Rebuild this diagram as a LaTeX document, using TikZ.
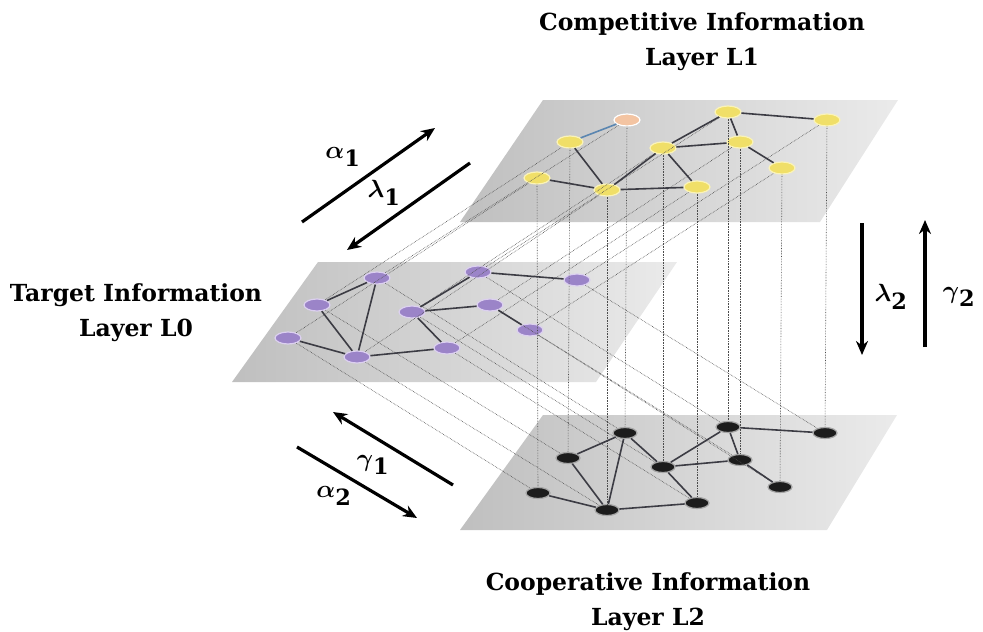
\documentclass[tikz,border=0pt]{standalone}
\usepackage{amsmath}
\usepackage{fontspec}
\setmainfont{DejaVu Serif}
\usetikzlibrary{shapes.geometric,arrows.meta}
\definecolor{nodeyel}{HTML}{F0DF68}
\definecolor{yelglow}{HTML}{FAF3B8}
\definecolor{nodeorg}{HTML}{F3C4A2}
\definecolor{nodepur}{HTML}{9B84C8}
\definecolor{purglow}{HTML}{DCD0F0}
\definecolor{nodeblk}{HTML}{1C1C1C}
\definecolor{edgegray}{HTML}{3C3C44}
\definecolor{edgeblue}{HTML}{5B86B0}

\begin{document}
\begin{tikzpicture}[x=1pt,y=-1pt,>={Stealth[length=14pt,width=12pt]},
  lbl/.style={font=\fontsize{23.5}{35}\selectfont\bfseries,align=center,inner sep=0pt},
  greek/.style={font=\fontsize{32}{32}\selectfont,inner sep=0pt},
  rel/.style={->,line width=3.2pt},
  plane/.style={left color=gray!50,right color=gray!16,draw=none},
  vert/.style={ellipse,minimum width=26pt,minimum height=12pt,inner sep=0pt,line width=1.2pt},
  comp/.style={vert,fill=nodeyel,draw=yelglow},
  targ/.style={vert,fill=nodepur,draw=purglow},
  coop/.style={vert,fill=nodeblk,draw=gray!70,minimum width=24pt,minimum height=11pt},
  link/.style={draw=edgegray,line width=1.6pt},
  proj/.style={draw=gray!60!black,line width=0.6pt,densely dotted}]
\useasboundingbox (0,0) rectangle (983,632);
\shade[plane] (543,100)--(898,100)--(820,222)--(460,222)--cycle;
\shade[plane] (318,262)--(677,262)--(596,382)--(232,382)--cycle;
\shade[plane] (543,415)--(897,415)--(827,530)--(460,530)--cycle;
\node[lbl] (l1) at (702,42) {Competitive Information\\Layer L1};
\node[lbl] (l0) at (136,313) {Target Information\\Layer L0};
\node[lbl] (l2) at (648,602) {Cooperative Information\\Layer L2};
\node[comp,fill=nodeorg,draw=white] (top1) at (627,120) {};
\node[comp] (top2) at (570,142) {};
\node[comp] (top3) at (728,112) {};
\node[comp] (top4) at (827,120) {};
\node[comp] (top5) at (663,148) {};
\node[comp] (top6) at (740,142) {};
\node[comp] (top7) at (782,168) {};
\node[comp] (top8) at (537,178) {};
\node[comp] (top9) at (607,190) {};
\node[comp] (top10) at (697,187) {};
\node[targ] (mid1) at (377,278) {};
\node[targ] (mid2) at (317,305) {};
\node[targ] (mid3) at (478,272) {};
\node[targ] (mid4) at (577,280) {};
\node[targ] (mid5) at (412,312) {};
\node[targ] (mid6) at (490,305) {};
\node[targ] (mid7) at (530,330) {};
\node[targ] (mid8) at (288,338) {};
\node[targ] (mid9) at (357,357) {};
\node[targ] (mid10) at (447,348) {};
\node[coop] (bot1) at (625,433) {};
\node[coop] (bot2) at (568,458) {};
\node[coop] (bot3) at (728,427) {};
\node[coop] (bot4) at (825,433) {};
\node[coop] (bot5) at (663,467) {};
\node[coop] (bot6) at (740,460) {};
\node[coop] (bot7) at (780,487) {};
\node[coop] (bot8) at (538,493) {};
\node[coop] (bot9) at (607,510) {};
\node[coop] (bot10) at (697,503) {};
\foreach \i in {1,...,10} {
  \draw[proj] (top\i)--(bot\i);
  \draw[proj] (mid\i)--(top\i);
  \draw[proj] (mid\i)--(bot\i);
}
\draw[link,draw=edgeblue] (top1)--(top2);
\draw[link] (top2)--(top9)--(top5)--(top3)--(top4);
\draw[link] (top8)--(top9)--(top10)--(top5)--(top6)--(top7);
\draw[link] (top3)--(top6);
\draw[link] (mid2)--(mid1)--(mid9)--(mid2);
\draw[link] (mid8)--(mid9)--(mid10)--(mid5)--(mid3)--(mid4);
\draw[link] (mid5)--(mid6)--(mid7);
\draw[link] (bot2)--(bot1)--(bot9)--(bot2);
\draw[link] (bot8)--(bot9)--(bot10)--(bot5)--(bot1);
\draw[link] (bot5)--(bot3)--(bot4);
\draw[link] (bot5)--(bot6)--(bot7);
\draw[link] (bot3)--(bot6);
\coordinate (a1s) at (302,222); \coordinate (a1e) at (435,128);
\coordinate (l1s) at (470,163); \coordinate (l1e) at (347,250);
\coordinate (g1s) at (453,485); \coordinate (g1e) at (333,412);
\coordinate (a2s) at (297,447); \coordinate (a2e) at (417,518);
\coordinate (l2s) at (862,223); \coordinate (l2e) at (862,355);
\coordinate (g2s) at (925,347); \coordinate (g2e) at (925,220);
\draw[rel] (a1s)--(a1e);
\draw[rel] (l1s)--(l1e);
\draw[rel] (g1s)--(g1e);
\draw[rel] (a2s)--(a2e);
\draw[rel] (l2s)--(l2e);
\draw[rel] (g2s)--(g2e);
\node[greek] (al1) at (343,157) {$\boldsymbol{\alpha}_{\mathbf{1}}$};
\node[greek] (la1) at (384,193) {$\boldsymbol{\lambda}_{\mathbf{1}}$};
\node[greek] (ga1) at (373,465) {$\boldsymbol{\gamma}_{\mathbf{1}}$};
\node[greek] (al2) at (334,496) {$\boldsymbol{\alpha}_{\mathbf{2}}$};
\node[greek] (la2) at (891,297) {$\boldsymbol{\lambda}_{\mathbf{2}}$};
\node[greek] (ga2) at (959,297) {$\boldsymbol{\gamma}_{\mathbf{2}}$};
\end{tikzpicture}
\end{document}
